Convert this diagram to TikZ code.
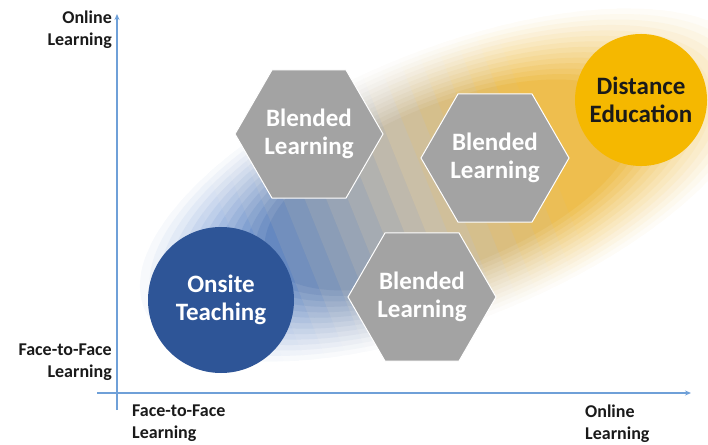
\documentclass[tikz,border=0pt]{standalone}
\usepackage{fontspec}
\setmainfont{Carlito}
\usetikzlibrary{shapes.geometric,arrows.meta}
\definecolor{onsiteblue}{HTML}{2E5597}
\definecolor{distgold}{HTML}{F5B800}
\definecolor{hexgray}{HTML}{A3A3A3}
\definecolor{axisblue}{HTML}{6FA0D8}
\definecolor{blobblue}{HTML}{4677C6}
\definecolor{blobmid}{HTML}{C9BFAA}
\definecolor{blobgold}{HTML}{EEBE4E}
\definecolor{labelgray}{HTML}{1A1A1A}
\tikzset{
  axis/.style={draw=axisblue, line width=1.6pt, -{Stealth[length=6pt,width=5pt]}},
  axlabel/.style={font=\fontsize{18}{22}\selectfont\bfseries, text=labelgray, inner sep=0pt},
  bigtext/.style={font=\fontsize{25}{28}\selectfont\bfseries, align=center, inner sep=0pt},
  blend/.style={bigtext, regular polygon, regular polygon sides=6, minimum size=148pt,
    fill=hexgray, draw=white, line width=1pt, text=white}
}
\begin{document}
\begin{tikzpicture}[x=1pt, y=1pt]
\useasboundingbox (0,0) rectangle (708,444);

% soft band from onsite to distance: strips along the band, rings fading to white
\begin{scope}[transform canvas={rotate around={22:(450,259)}}]
\foreach \j in {0,...,33}{
  \pgfmathsetmacro\xa{110+20*\j}
  \pgfmathsetmacro\t{(\xa-100)/680}
  \pgfmathsetmacro\qa{100*max(0,min(1,(\t-0.15)/0.3))}
  \pgfmathsetmacro\qb{100*max(0,min(1,(\t-0.45)/0.2))}
  \colorlet{bandtmp}{blobmid!\qa!blobblue}
  \colorlet{bandcol}{blobgold!\qb!bandtmp}
  \begin{scope}
    \clip (\xa,100) rectangle ({\xa+34},420);
    \foreach \k in {1,...,14}{
      \pgfmathsetmacro\so{1-0.03*\k}
      \pgfmathsetmacro\si{1-0.03*(\k+1)-0.005}
      \pgfmathsetmacro\p{100*(\k/14)^1.2}
      \ifnum\k=14
        \fill[bandcol!\p!white] (450,259) ellipse ({340*\so} and {140*\so});
      \else
        \fill[bandcol!\p!white, even odd rule] (450,259) ellipse ({340*\so} and {140*\so})
          (450,259) ellipse ({340*\si} and {140*\si});
      \fi
    }
  \end{scope}
}
\end{scope}

% axes
\coordinate (ybot) at (117,34);
\coordinate (ytop) at (117,430);
\coordinate (xleft) at (97,51);
\coordinate (xright) at (691,51);
\draw[axis] (ybot) -- (ytop);
\draw[axis] (xleft) -- (xright);

\node[axlabel, anchor=east, align=right] (ontop) at (112,414) {Online\\Learning};
\node[axlabel, anchor=east, align=right] (ftfleft) at (112,82) {Face-to-Face\\Learning};
\node[axlabel, anchor=west, align=left] (ftfbot) at (132,21) {Face-to-Face\\Learning};
\node[axlabel, anchor=west, align=left] (onbot) at (585,20) {Online\\Learning};

% the three blended steps
\foreach \n/\p in {blendA/{(309,310)}, blendB/{(495,286)}, blendC/{(422,147)}}
  \node[blend] (\n) at \p {Blended\\Learning};

\node[bigtext, circle, fill=onsiteblue, minimum size=146pt, text=white] (onsite) at (221,144) {Onsite\\Teaching};
\node[bigtext, circle, fill=distgold, minimum size=132pt, text=labelgray] (distance) at (641,344) {Distance\\Education};
\end{tikzpicture}
\end{document}
